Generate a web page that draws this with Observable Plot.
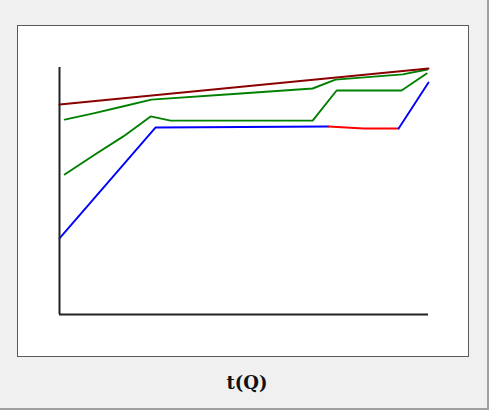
<!DOCTYPE html>
<html>
<head>
<meta charset="utf-8">
<script src="https://cdn.jsdelivr.net/npm/d3@7"></script>
<script src="https://cdn.jsdelivr.net/npm/@observablehq/plot@0.6"></script>
<style>
  html, body { margin: 0; padding: 0; }
  body { width: 489px; height: 410px; background: #f0f0f0; position: relative; overflow: hidden; }
  #frame { position: absolute; left: 0; top: 0; width: 487px; height: 408px; border-right: 2px solid #a0a0a0; border-bottom: 2px solid #a0a0a0; }
  #panel { position: absolute; left: 17px; top: 25px; width: 450px; height: 330px; background: #fff; border: 1px solid #5a5a5a; }
  #panel svg { display: block; }
  #title { position: absolute; left: 0; width: 494px; top: 372px; text-align: center; font-family: "DejaVu Serif", serif; font-weight: bold; font-size: 18px; color: #111; }
</style>
</head>
<body>
<div id="frame"></div>
<div id="panel"></div>
<div id="title">t(Q)</div>
<script>
// Series values (x: 0..100 along axis, y: 0..100 up the axis)
const topX = [0, 100];
const topY = [85.0, 99.6];

const upperGreenX = [1.4, 9.2, 17.1, 24.9, 49.1, 68.6, 74.8, 93.0, 99.7];
const upperGreenY = [78.9, 81.4, 84.2, 87.0, 89.5, 91.5, 95.1, 97.2, 99.2];

const lowerGreenX = [1.4, 9.2, 17.3, 24.7, 30.1, 68.6, 75.1, 92.7, 99.5];
const lowerGreenY = [56.7, 64.4, 72.1, 80.2, 78.5, 78.5, 90.7, 90.7, 97.6];

const blueAX = [0, 26.0, 72.9];
const blueAY = [30.8, 75.7, 76.1];

const redX = [72.9, 82.4, 91.9];
const redY = [76.1, 75.3, 75.3];

const blueBX = [91.9, 100];
const blueBY = [75.3, 93.9];

const pts = (xs, ys) => xs.map((x, i) => ({x, y: ys[i]}));

const chart = Plot.plot({
  width: 450,
  height: 330,
  marginLeft: 41,
  marginRight: 40,
  marginTop: 41,
  marginBottom: 42,
  x: {domain: [0, 100], axis: null},
  y: {domain: [0, 100], axis: null},
  style: {background: "white", overflow: "visible"},
  marks: [
    Plot.line(pts(blueAX, blueAY), {x: "x", y: "y", stroke: "#0000ff", strokeWidth: 1.9}),
    Plot.line(pts(redX, redY), {x: "x", y: "y", stroke: "#ff0000", strokeWidth: 1.9}),
    Plot.line(pts(blueBX, blueBY), {x: "x", y: "y", stroke: "#0000ff", strokeWidth: 1.9}),
    Plot.line(pts(lowerGreenX, lowerGreenY), {x: "x", y: "y", stroke: "#008000", strokeWidth: 1.9}),
    Plot.line(pts(upperGreenX, upperGreenY), {x: "x", y: "y", stroke: "#008000", strokeWidth: 1.9}),
    Plot.line(pts(topX, topY), {x: "x", y: "y", stroke: "#8b0000", strokeWidth: 1.9}),
    Plot.ruleX([0], {stroke: "#222", strokeWidth: 2}),
    Plot.ruleY([0], {stroke: "#222", strokeWidth: 2})
  ]
});
document.getElementById("panel").appendChild(chart);
</script>
</body>
</html>
